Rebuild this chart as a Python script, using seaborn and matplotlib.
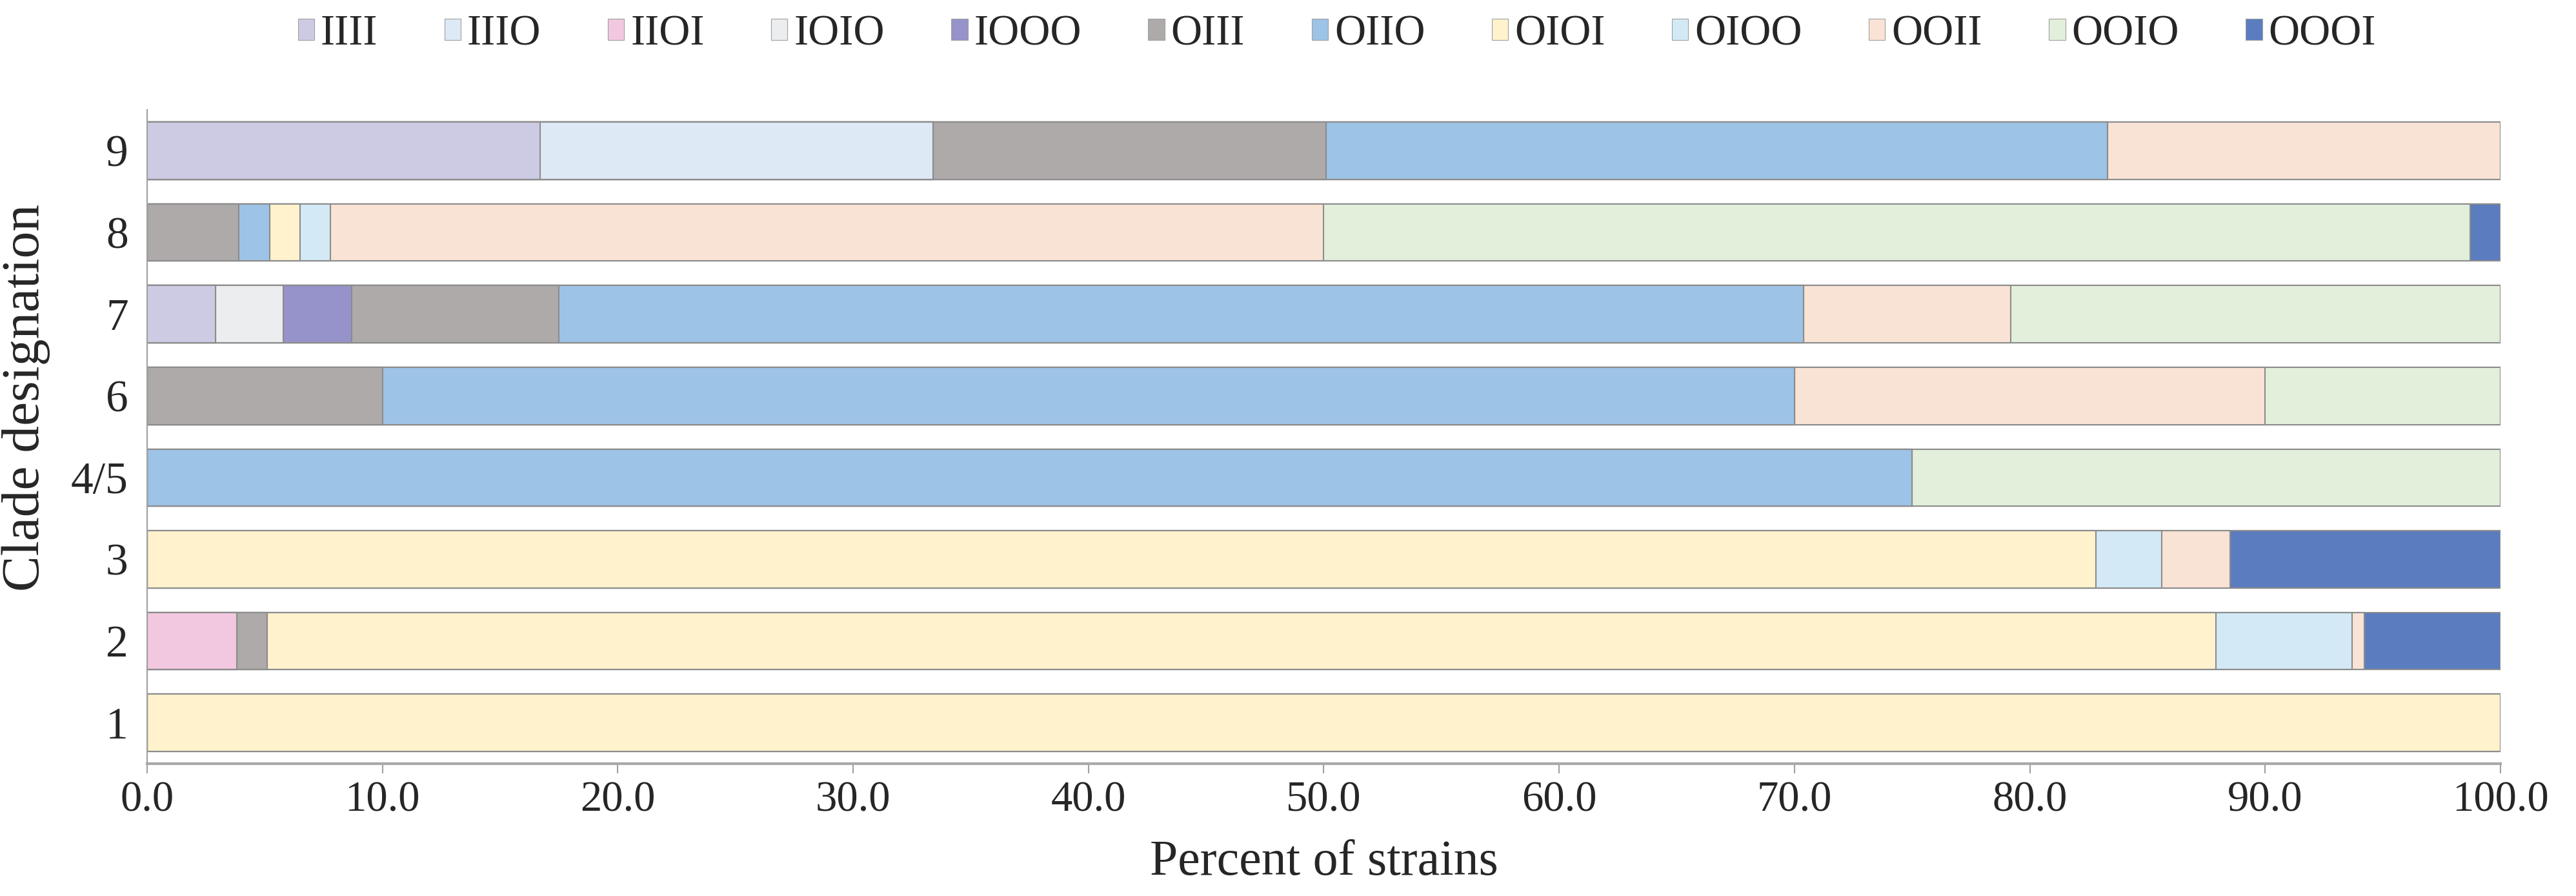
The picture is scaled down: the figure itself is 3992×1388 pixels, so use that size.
import numpy as np
import pandas as pd
import seaborn as sns
import matplotlib.pyplot as plt
from matplotlib.patches import Patch
from matplotlib.ticker import FormatStrFormatter

# Clades, top to bottom
clades = ["9", "8", "7", "6", "4/5", "3", "2", "1"]

# Ortholog presence patterns and their colours
patterns = ["IIII", "IIIO", "IIOI", "IOIO", "IOOO", "OIII",
            "OIIO", "OIOI", "OIOO", "OOII", "OOIO", "OOOI"]
colors = ["#CDCBE4", "#DDE9F5", "#F2C8E0", "#ECEDEF", "#9593C9", "#AEAAAA",
          "#9DC3E6", "#FFF2CC", "#D3EAF6", "#F9E3D5", "#E2EFDA", "#5B7DBF"]

# Percent of strains per pattern (same order as patterns)
clade_9 = [16.7, 16.7, 0, 0, 0, 16.7, 33.2, 0, 0, 16.7, 0, 0]
clade_8 = [0, 0, 0, 0, 0, 3.9, 1.3, 1.3, 1.3, 42.2, 48.7, 1.3]
clade_7 = [2.9, 0, 0, 2.9, 2.9, 8.8, 52.9, 0, 0, 8.8, 20.8, 0]
clade_6 = [0, 0, 0, 0, 0, 10.0, 60.0, 0, 0, 20.0, 10.0, 0]
clade_45 = [0, 0, 0, 0, 0, 0, 75.0, 0, 0, 0, 25.0, 0]
clade_3 = [0, 0, 0, 0, 0, 0, 0, 82.8, 2.8, 2.9, 0, 11.5]
clade_2 = [0, 0, 3.8, 0, 0, 1.3, 0, 82.8, 5.8, 0.5, 0, 5.8]
clade_1 = [0, 0, 0, 0, 0, 0, 0, 100.0, 0, 0, 0, 0]

df = pd.DataFrame([clade_9, clade_8, clade_7, clade_6, clade_45, clade_3, clade_2, clade_1],
                  index=clades, columns=patterns)
cum = df.cumsum(axis=1)
cum.index.name = "clade"
cum = cum.reset_index()

sns.set_theme(style="white")
plt.rcParams["font.family"] = ["Liberation Serif", "DejaVu Serif"]

fig = plt.figure(figsize=(39.92, 13.88), dpi=100)
ax = fig.add_axes([0.0571, 0.1477, 0.9136, 0.7298])

# stacked bars: draw cumulative totals from the last pattern back to the first
for p, c in zip(reversed(patterns), reversed(colors)):
    sns.barplot(data=cum, x=p, y="clade", order=clades, orient="h",
                color=c, saturation=1, width=0.7,
                edgecolor="#8C8C8C", linewidth=1.5, ax=ax)

ax.set_xlim(0, 100)
ax.set_ylim(7.5, -0.5)
ax.set_xticks(np.arange(0, 101, 10))
ax.xaxis.set_major_formatter(FormatStrFormatter("%.1f"))

ax.set_xlabel("Percent of strains", fontsize=56, labelpad=22)
ax.set_ylabel("Clade designation", fontsize=60)
ax.yaxis.set_label_coords(-0.041, 0.56)

ax.tick_params(axis="x", direction="out", length=11, width=1.5, color="#A0A0A0",
               labelsize=48, pad=8, bottom=True)
ax.tick_params(axis="y", length=0, labelsize=50, pad=21)

sns.despine(ax=ax, top=True, right=True)
ax.spines["left"].set_color("#A0A0A0")
ax.spines["left"].set_linewidth(1.5)
ax.spines["bottom"].set_color("#A8A8A8")
ax.spines["bottom"].set_linewidth(3)

handles = [Patch(facecolor=c, edgecolor="#A0A0A0", linewidth=0.8) for c in colors]
fig.legend(handles, patterns, loc="center", bbox_to_anchor=(0.519, 0.962),
           ncol=12, frameon=False, fontsize=48, handlelength=0.38,
           handleheight=0.4, handletextpad=0.15, columnspacing=1.55)

fig.savefig("out.png", dpi=100, facecolor="white")
